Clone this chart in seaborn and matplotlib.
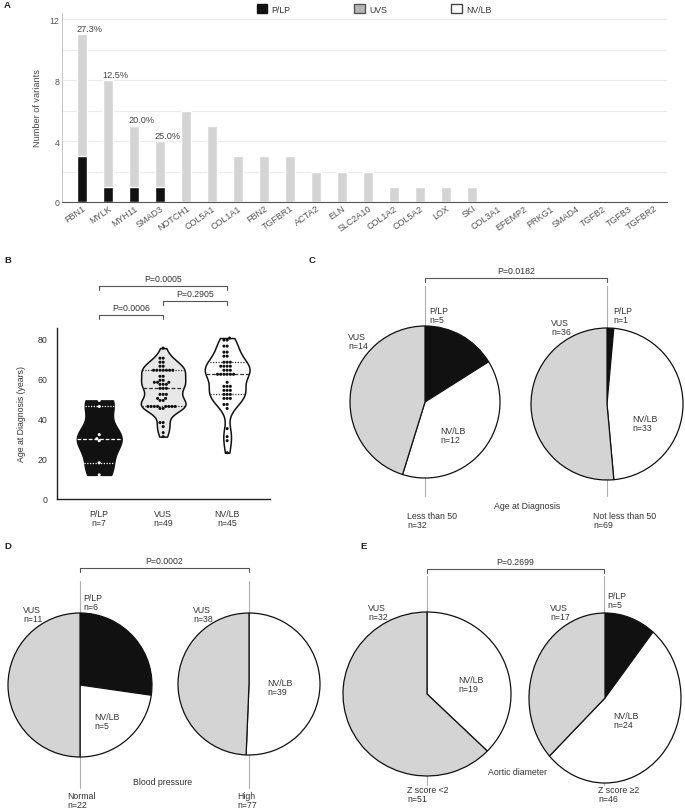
import numpy as np
import pandas as pd
import matplotlib.pyplot as plt
import seaborn as sns
from matplotlib.patches import Patch
from matplotlib.ticker import MultipleLocator

# ---- data ----
genes = ['FBN1', 'MYLK', 'MYH11', 'SMAD3', 'NOTCH1', 'COL5A1', 'COL1A1', 'FBN2', 'TGFBR1',
         'ACTA2', 'ELN', 'SLC2A10', 'COL1A2', 'COL5A2', 'LOX', 'SKI', 'COL3A1', 'EFEMP2',
         'PRKG1', 'SMAD4', 'TGFB2', 'TGFB3', 'TGFBR2']
plp_counts = [3, 1, 1, 1, 0, 0, 0, 0, 0, 0, 0, 0, 0, 0, 0, 0, 0, 0, 0, 0, 0, 0, 0]
uvs_counts = [8, 7, 4, 3, 6, 5, 3, 3, 3, 2, 2, 2, 1, 1, 1, 1, 0, 0, 0, 0, 0, 0, 0]

plp_ages = [12, 18, 29, 30, 32, 46, 49]
vus_ages = [75, 70, 70, 68, 68, 66, 66, 64, 64, 64, 64, 64, 64, 64, 61, 61, 59, 59,
            58, 58, 58, 57, 57, 57, 55, 55, 55, 52, 52, 52, 50, 50, 49, 49,
            46, 46, 46, 46, 46, 46, 46, 46, 45, 45, 38, 38, 36, 33, 31]
nvlb_ages = [80, 79, 79, 76, 76, 73, 73, 71, 71, 68, 68, 68, 66, 66, 66, 66, 64, 64, 64,
             62, 62, 62, 62, 62, 62, 58, 56, 56, 56, 54, 54, 54, 52, 52, 52, 50, 50, 50,
             47, 47, 45, 35, 31, 29, 23]
age_groups = ['P/LP', 'VUS', 'NV/LB']
age_pvals = ['P=0.0006', 'P=0.2905', 'P=0.0005']

pie_cats = ['P/LP', 'NV/LB', 'VUS']
age_lt50 = [5, 12, 14]
age_ge50 = [1, 33, 36]
bp_normal = [6, 5, 11]
bp_high = [0, 39, 38]
z_lt2 = [0, 19, 32]
z_ge2 = [5, 24, 17]

W, H = 685, 812
TXT = '#333333'
FS = 6.3
sns.set_style('white')
plt.rcParams['font.family'] = ['Liberation Sans', 'DejaVu Sans']
plt.rcParams['font.size'] = FS
plt.rcParams['text.color'] = TXT

fig = plt.figure(figsize=(W / 100, H / 100), dpi=100)


def box(x0, y0, x1, y1):
    return [x0 / W, 1 - y1 / H, (x1 - x0) / W, (y1 - y0) / H]


back = fig.add_axes([0, 0, 1, 1], zorder=0)
back.set_xlim(0, W); back.set_ylim(H, 0); back.axis('off')
front = fig.add_axes([0, 0, 1, 1], zorder=5)
front.set_xlim(0, W); front.set_ylim(H, 0); front.axis('off')


def bracket(x0, x1, y, label, drop=4):
    front.plot([x0, x0, x1, x1], [y + drop, y, y, y + drop], color='#555555', lw=0.8)
    front.text((x0 + x1) / 2, y - 7, label, ha='center', va='center', fontsize=FS)


# ---- A: bar chart ----
axa = fig.add_axes(box(62, 14, 667, 203), zorder=1)
totals = [p + u for p, u in zip(plp_counts, uvs_counts)]
sns.barplot(x=genes, y=totals, color='#d4d4d4', width=0.38, saturation=1, ax=axa)
sns.barplot(x=genes, y=plp_counts, color='#111111', width=0.38, saturation=1, ax=axa)
for i, (p, t) in enumerate(zip(plp_counts, totals)):
    if p > 0:
        axa.text(i - 0.22, t + 0.1, f'{100 * p / t:.1f}%', ha='left', va='bottom',
                 fontsize=6.6, color='#444444')
axa.set_xlim(-0.77, 22.5)
axa.set_ylim(0, 12.4)
axa.set_yticks([0, 4, 8, 12])
axa.yaxis.set_minor_locator(MultipleLocator(2))
axa.grid(axis='y', which='both', color='#ebebeb', lw=0.8)
axa.set_axisbelow(True)
for s in ['top', 'right']:
    axa.spines[s].set_visible(False)
axa.spines['left'].set_color('#bbbbbb'); axa.spines['left'].set_linewidth(0.6)
axa.spines['bottom'].set_color('#555555'); axa.spines['bottom'].set_linewidth(0.8)
axa.tick_params(axis='y', which='both', length=0, pad=2, labelsize=FS, labelcolor='#555555')
axa.tick_params(axis='x', length=0, pad=1, labelsize=6.5, labelcolor='#555555')
plt.setp(axa.get_xticklabels(), rotation=35, ha='right', rotation_mode='anchor')
axa.set_ylabel('Number of variants', fontsize=6.6, color='#444444', labelpad=5)
handles = [Patch(facecolor='#111111', edgecolor='#111111'),
           Patch(facecolor='#b5b5b5', edgecolor='#555555'),
           Patch(facecolor='white', edgecolor='#444444')]
fig.legend(handles, ['P/LP', 'UVS', 'NV/LB'], loc='center', bbox_to_anchor=(374 / W, 1 - 10 / H),
           ncol=3, frameon=False, columnspacing=7.3, handlelength=1.2, handleheight=1.2,
           handletextpad=0.5, fontsize=FS)

# ---- B: violins ----
axb = fig.add_axes(box(57, 329, 270, 500), zorder=1)
df = pd.DataFrame({
    'group': ['P/LP'] * len(plp_ages) + ['VUS'] * len(vus_ages) + ['NV/LB'] * len(nvlb_ages),
    'age': plp_ages + vus_ages + nvlb_ages,
})
fill_pal = {'P/LP': '#111111', 'VUS': '#e8e8e8', 'NV/LB': 'white'}
dot_pal = {'P/LP': 'white', 'VUS': '#111111', 'NV/LB': '#111111'}
sns.violinplot(data=df, x='group', y='age', hue='group', order=age_groups, hue_order=age_groups,
               palette=fill_pal, cut=0, bw_adjust=0.7, inner=None, density_norm='width',
               width=0.7, linewidth=1.1, linecolor='#111111', saturation=1, legend=False, ax=axb)
for i, g in enumerate(age_groups):
    vals = df.loc[df.group == g, 'age'].to_numpy()
    v = axb.collections[i].get_paths()[0].vertices
    right = v[v[:, 0] > i + 1e-6]
    order = np.argsort(right[:, 1])
    ys, xs = right[order, 1], right[order, 0]
    q1, med, q3 = np.percentile(vals, [25, 50, 75], method='weibull')
    lc = 'white' if g == 'P/LP' else '#333333'
    for q, ls in [(q1, (0, (1, 1.2))), (med, (0, (3, 1.5))), (q3, (0, (1, 1.2)))]:
        hw = np.interp(q, ys, xs) - i
        axb.plot([i - hw, i + hw], [q, q], color=lc, lw=0.9, ls=ls, zorder=3)
sns.swarmplot(data=df, x='group', y='age', hue='group', order=age_groups, hue_order=age_groups,
              palette=dot_pal, size=2.2, linewidth=0, legend=False, ax=axb, zorder=4)
axb.set_xlim(-0.66, 2.67)
axb.set_ylim(0, 85)
axb.set_yticks([0, 20, 40, 60, 80])
counts = [len(plp_ages), len(vus_ages), len(nvlb_ages)]
axb.set_xticks(range(3))
axb.set_xticklabels([f'{g}\nn={n}' for g, n in zip(age_groups, counts)], linespacing=1.0)
axb.xaxis.set_minor_locator(MultipleLocator(0.1))
for s in ['top', 'right']:
    axb.spines[s].set_visible(False)
for s in ['left', 'bottom']:
    axb.spines[s].set_color('#222222'); axb.spines[s].set_linewidth(1.0)
axb.tick_params(axis='both', which='major', length=3.5, width=0.9, color='#222222',
                labelsize=FS, labelcolor=TXT, direction='out')
axb.tick_params(axis='x', which='minor', length=1.5, width=0.6, color='#222222')
axb.set_xlabel('')
axb.set_ylabel('Age at Diagnosis (years)', fontsize=FS, color=TXT, labelpad=8)
bracket(99, 163, 316, age_pvals[0])
bracket(163, 227, 302, age_pvals[1])
bracket(99, 227, 287, age_pvals[2])

# ---- C, D, E: pies ----
pie_colors = ['#111111', 'white', '#d4d4d4']


def draw_pie(cx, cy, rx, ry, counts):
    ax = fig.add_axes(box(cx - rx, cy - ry, cx + rx, cy + ry), zorder=2)
    ax.pie(counts, colors=pie_colors, startangle=90, counterclock=False,
           wedgeprops=dict(edgecolor='#111111', linewidth=0.9, clip_on=False))
    ax.set_aspect('auto')
    ax.set_xlim(-1, 1); ax.set_ylim(-1, 1)
    ax.axis('off')


def label(x, y, cat, counts):
    n = counts[pie_cats.index(cat)]
    front.text(x, y, f'{cat}\nn={n}', ha='left', va='top', fontsize=FS, linespacing=1.0)


def vline(x, y0, y1):
    back.plot([x, x], [y0, y1], color='#b0b0b0', lw=0.8)


# C
draw_pie(425, 403, 75, 76, age_lt50)
draw_pie(607, 405, 76, 76, age_ge50)
vline(425, 287, 497); vline(607, 287, 497)
bracket(425, 607, 279, 'P=0.0182')
label(429, 307, 'P/LP', age_lt50); label(348, 333, 'VUS', age_lt50); label(440, 427, 'NV/LB', age_lt50)
label(613, 307, 'P/LP', age_ge50); label(551, 319, 'VUS', age_ge50); label(632, 415, 'NV/LB', age_ge50)
front.text(527, 507, 'Age at Diagnosis', ha='center', va='center', fontsize=FS)
front.text(407, 512, 'Less than 50\nn=32', ha='left', va='top', fontsize=FS, linespacing=1.0)
front.text(593, 512, 'Not less than 50\nn=69', ha='left', va='top', fontsize=FS, linespacing=1.0)

# D
draw_pie(80, 686, 72, 72, bp_normal)
draw_pie(249, 685, 71, 71, bp_high)
vline(80, 582, 789); vline(249, 582, 789)
bracket(80, 249, 569, 'P=0.0002')
label(83, 594, 'P/LP', bp_normal); label(23, 606, 'VUS', bp_normal); label(94, 713, 'NV/LB', bp_normal)
label(193, 606, 'VUS', bp_high); label(267, 679, 'NV/LB', bp_high)
front.text(163, 783, 'Blood pressure', ha='center', va='center', fontsize=FS)
front.text(67, 792, 'Normal\nn=22', ha='left', va='top', fontsize=FS, linespacing=0.95)
front.text(237, 792, 'High\nn=77', ha='left', va='top', fontsize=FS, linespacing=0.95)

# E
draw_pie(427, 695, 84, 82, z_lt2)
draw_pie(605, 699, 76, 85, z_ge2)
vline(427, 577, 786); vline(604, 577, 786)
bracket(427, 604, 570, 'P=0.2699')
label(368, 604, 'VUS', z_lt2); label(458, 676, 'NV/LB', z_lt2)
label(607, 592, 'P/LP', z_ge2); label(550, 604, 'VUS', z_ge2); label(613, 712, 'NV/LB', z_ge2)
front.text(518, 773, 'Aortic diameter', ha='center', va='center', fontsize=FS)
front.text(407, 786, 'Z score <2\nn=51', ha='left', va='top', fontsize=FS, linespacing=0.95)
front.text(598, 786, 'Z score \u22652\nn=46', ha='left', va='top', fontsize=FS, linespacing=0.95)

# panel letters
for s, x, y in [('A', 4, 6), ('B', 4, 261), ('C', 309, 261), ('D', 4, 547), ('E', 360, 547)]:
    front.text(x, y, s, ha='left', va='center', fontsize=6.8, fontweight='bold', color='#222222')

fig.savefig('out.png', dpi=100)
